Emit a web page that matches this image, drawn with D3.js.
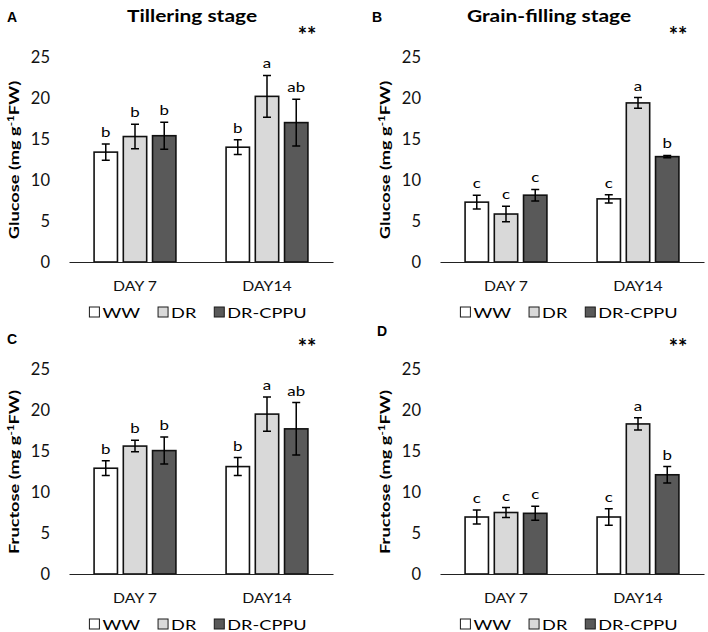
<!DOCTYPE html>
<html>
<head>
<meta charset="utf-8">
<script src="https://cdn.jsdelivr.net/npm/d3@7"></script>
<style>
  body { margin: 0; background: #fff; }
  svg { display: block; font-family: Lato, 'Open Sans', sans-serif; }
</style>
</head>
<body>
<script>
// categories and treatments
const days = ['DAY 7', 'DAY14'];
const treatments = ['WW', 'DR', 'DR-CPPU'];
const yTicks = [0, 5, 10, 15, 20, 25];

// glucose, tillering stage (A)
const glucoseTillerMean = [[13.4, 15.3, 15.4], [14.0, 20.2, 17.0]];
const glucoseTillerErr = [[1.0, 1.5, 1.65], [0.9, 2.55, 2.85]];
const glucoseTillerSig = [['b', 'b', 'b'], ['b', 'a', 'ab']];

// glucose, grain-filling stage (B)
const glucoseGrainMean = [[7.3, 5.85, 8.15], [7.7, 19.4, 12.85]];
const glucoseGrainErr = [[0.85, 0.95, 0.7], [0.5, 0.65, 0.15]];
const glucoseGrainSig = [['c', 'c', 'c'], ['c', 'a', 'b']];

// fructose, tillering stage (C)
const fructoseTillerMean = [[12.9, 15.6, 15.05], [13.1, 19.5, 17.7]];
const fructoseTillerErr = [[0.9, 0.7, 1.65], [1.1, 2.1, 3.2]];
const fructoseTillerSig = [['b', 'b', 'b'], ['b', 'a', 'ab']];

// fructose, grain-filling stage (D)
const fructoseGrainMean = [[6.95, 7.5, 7.4], [6.95, 18.3, 12.1]];
const fructoseGrainErr = [[0.85, 0.6, 0.85], [1.0, 0.75, 1.0]];
const fructoseGrainSig = [['c', 'c', 'c'], ['c', 'a', 'b']];

const panels = [
  {tag: 'A', title: 'Tillering stage', sugar: 'Glucose', mean: glucoseTillerMean,
    err: glucoseTillerErr, sig: glucoseTillerSig, ox: 0, oy: 0, tagX: 7, tagY: 22, titleX: 192},
  {tag: 'B', title: 'Grain-filling stage', sugar: 'Glucose', mean: glucoseGrainMean,
    err: glucoseGrainErr, sig: glucoseGrainSig, ox: 371, oy: 0, tagX: 372, tagY: 22, titleX: 549},
  {tag: 'C', title: null, sugar: 'Fructose', mean: fructoseTillerMean,
    err: fructoseTillerErr, sig: fructoseTillerSig, ox: 0, oy: 312, tagX: 7, tagY: 344},
  {tag: 'D', title: null, sugar: 'Fructose', mean: fructoseGrainMean,
    err: fructoseGrainErr, sig: fructoseGrainSig, ox: 371, oy: 312, tagX: 377, tagY: 336},
];

const svg = d3.select('body').append('svg')
    .attr('width', 708)
    .attr('height', 632);

const color = d3.scaleOrdinal()
    .domain(treatments)
    .range(['#ffffff', '#d9d9d9', '#595959']);

// the original type is set wide, so text gets a horizontal stretch
function stretchText(parent, x, y, str, opt) {
  const g = parent.append('g')
      .attr('transform', `translate(${x},${y})` +
        (opt.rotate ? ` rotate(${opt.rotate})` : '') +
        ` scale(${opt.sx || 1},1)`);
  return g.append('text')
      .attr('text-anchor', opt.anchor || 'start')
      .attr('font-size', opt.size)
      .attr('font-weight', opt.weight || 'normal')
      .attr('fill', '#000')
      .text(str);
}

function drawPanel(p) {
  const g = svg.append('g').attr('transform', `translate(${p.ox},${p.oy})`);

  const y = d3.scaleLinear().domain([0, 25]).range([262, 57]);
  const x0 = d3.scaleBand().domain(days).range([69, 333])
      .paddingInner(0.38).paddingOuter(0.19);
  const x1 = d3.scaleBand().domain(treatments).range([0, x0.bandwidth()])
      .paddingInner(0.2).paddingOuter(0);

  // y tick labels, no axis line
  g.append('g')
      .attr('transform', 'translate(69,0)')
      .call(d3.axisLeft(y).tickValues(yTicks).tickSize(0).tickPadding(19))
      .call((a) => a.select('.domain').remove())
      .call((a) => a.selectAll('text')
          .attr('font-family', 'Lato, sans-serif')
          .attr('font-size', 16.5)
          .attr('fill', '#111'));

  // bars
  const rows = [];
  days.forEach((day, i) => {
    treatments.forEach((t, j) => {
      rows.push({day, t, v: p.mean[i][j], e: p.err[i][j], s: p.sig[i][j]});
    });
  });

  const bar = g.append('g').selectAll('g')
      .data(rows)
      .join('g')
      .attr('transform', (d) => `translate(${x0(d.day) + x1(d.t)},0)`);

  bar.append('rect')
      .attr('y', (d) => y(d.v))
      .attr('width', x1.bandwidth())
      .attr('height', (d) => y(0) - y(d.v))
      .attr('fill', (d) => color(d.t))
      .attr('stroke', '#111')
      .attr('stroke-width', 1.6);

  // error bars
  const cx = x1.bandwidth() / 2;
  bar.append('path')
      .attr('d', (d) => {
        const top = y(d.v + d.e);
        const bot = y(d.v - d.e);
        return `M${cx},${top}V${bot}M${cx - 4},${top}H${cx + 4}` +
          `M${cx - 4},${bot}H${cx + 4}`;
      })
      .attr('fill', 'none')
      .attr('stroke', '#000')
      .attr('stroke-width', 1.5);

  // significance letters
  bar.each(function(d) {
    stretchText(d3.select(this), cx, y(d.v + d.e) - 7, d.s,
        {size: 13.5, anchor: 'middle', sx: 1.25});
  });

  // x axis line and day labels
  g.append('g')
      .attr('transform', `translate(0,${y(0)})`)
      .call(d3.axisBottom(x0).tickSize(0).tickPadding(19))
      .call((a) => a.select('.domain')
          .attr('stroke', '#222')
          .attr('stroke-width', 1.2))
      .call((a) => a.selectAll('text')
          .attr('font-family', 'Lato, sans-serif')
          .attr('font-size', 14)
          .attr('fill', '#111')
          .attr('transform', 'scale(1.13,1)'));

  // legend
  const leg = g.append('g');
  let lx = 0;
  treatments.forEach((t) => {
    leg.append('rect')
        .attr('x', lx)
        .attr('width', 10)
        .attr('height', 10)
        .attr('fill', color(t))
        .attr('stroke', '#1a1a1a')
        .attr('stroke-width', 1);
    const txt = stretchText(leg, lx + 13, 10.5, t, {size: 14, sx: 1.3});
    lx += 13 + txt.node().getComputedTextLength() * 1.3 + 18;
  });
  const legW = lx - 18;
  leg.attr('transform', `translate(${(69 + 333) / 2 - 3 - legW / 2},${y(0) + 45})`);

  // y label with superscript
  const yl = stretchText(g, 18.5, 160, '', {size: 14, weight: 'bold',
    anchor: 'middle', rotate: -90, sx: 1.3});
  yl.append('tspan').text(`${p.sugar} (mg g`);
  yl.append('tspan').attr('font-size', 9).attr('dy', -5).text('-1');
  yl.append('tspan').attr('dy', 5).text('FW)');

  // stars
  stretchText(g, 69 + 238, 43, '**', {size: 22, weight: 'bold', anchor: 'middle'});
}

panels.forEach((p) => {
  drawPanel(p);
  svg.append('text')
      .attr('x', p.tagX)
      .attr('y', p.tagY)
      .attr('font-family', '"Liberation Sans", Arial, sans-serif')
      .attr('font-weight', 'bold')
      .attr('font-size', 14)
      .text(p.tag);
  if (p.title) {
    stretchText(svg, p.titleX, 21.5, p.title,
        {size: 16.5, weight: 'bold', anchor: 'middle', sx: 1.27});
  }
});
</script>
</body>
</html>
